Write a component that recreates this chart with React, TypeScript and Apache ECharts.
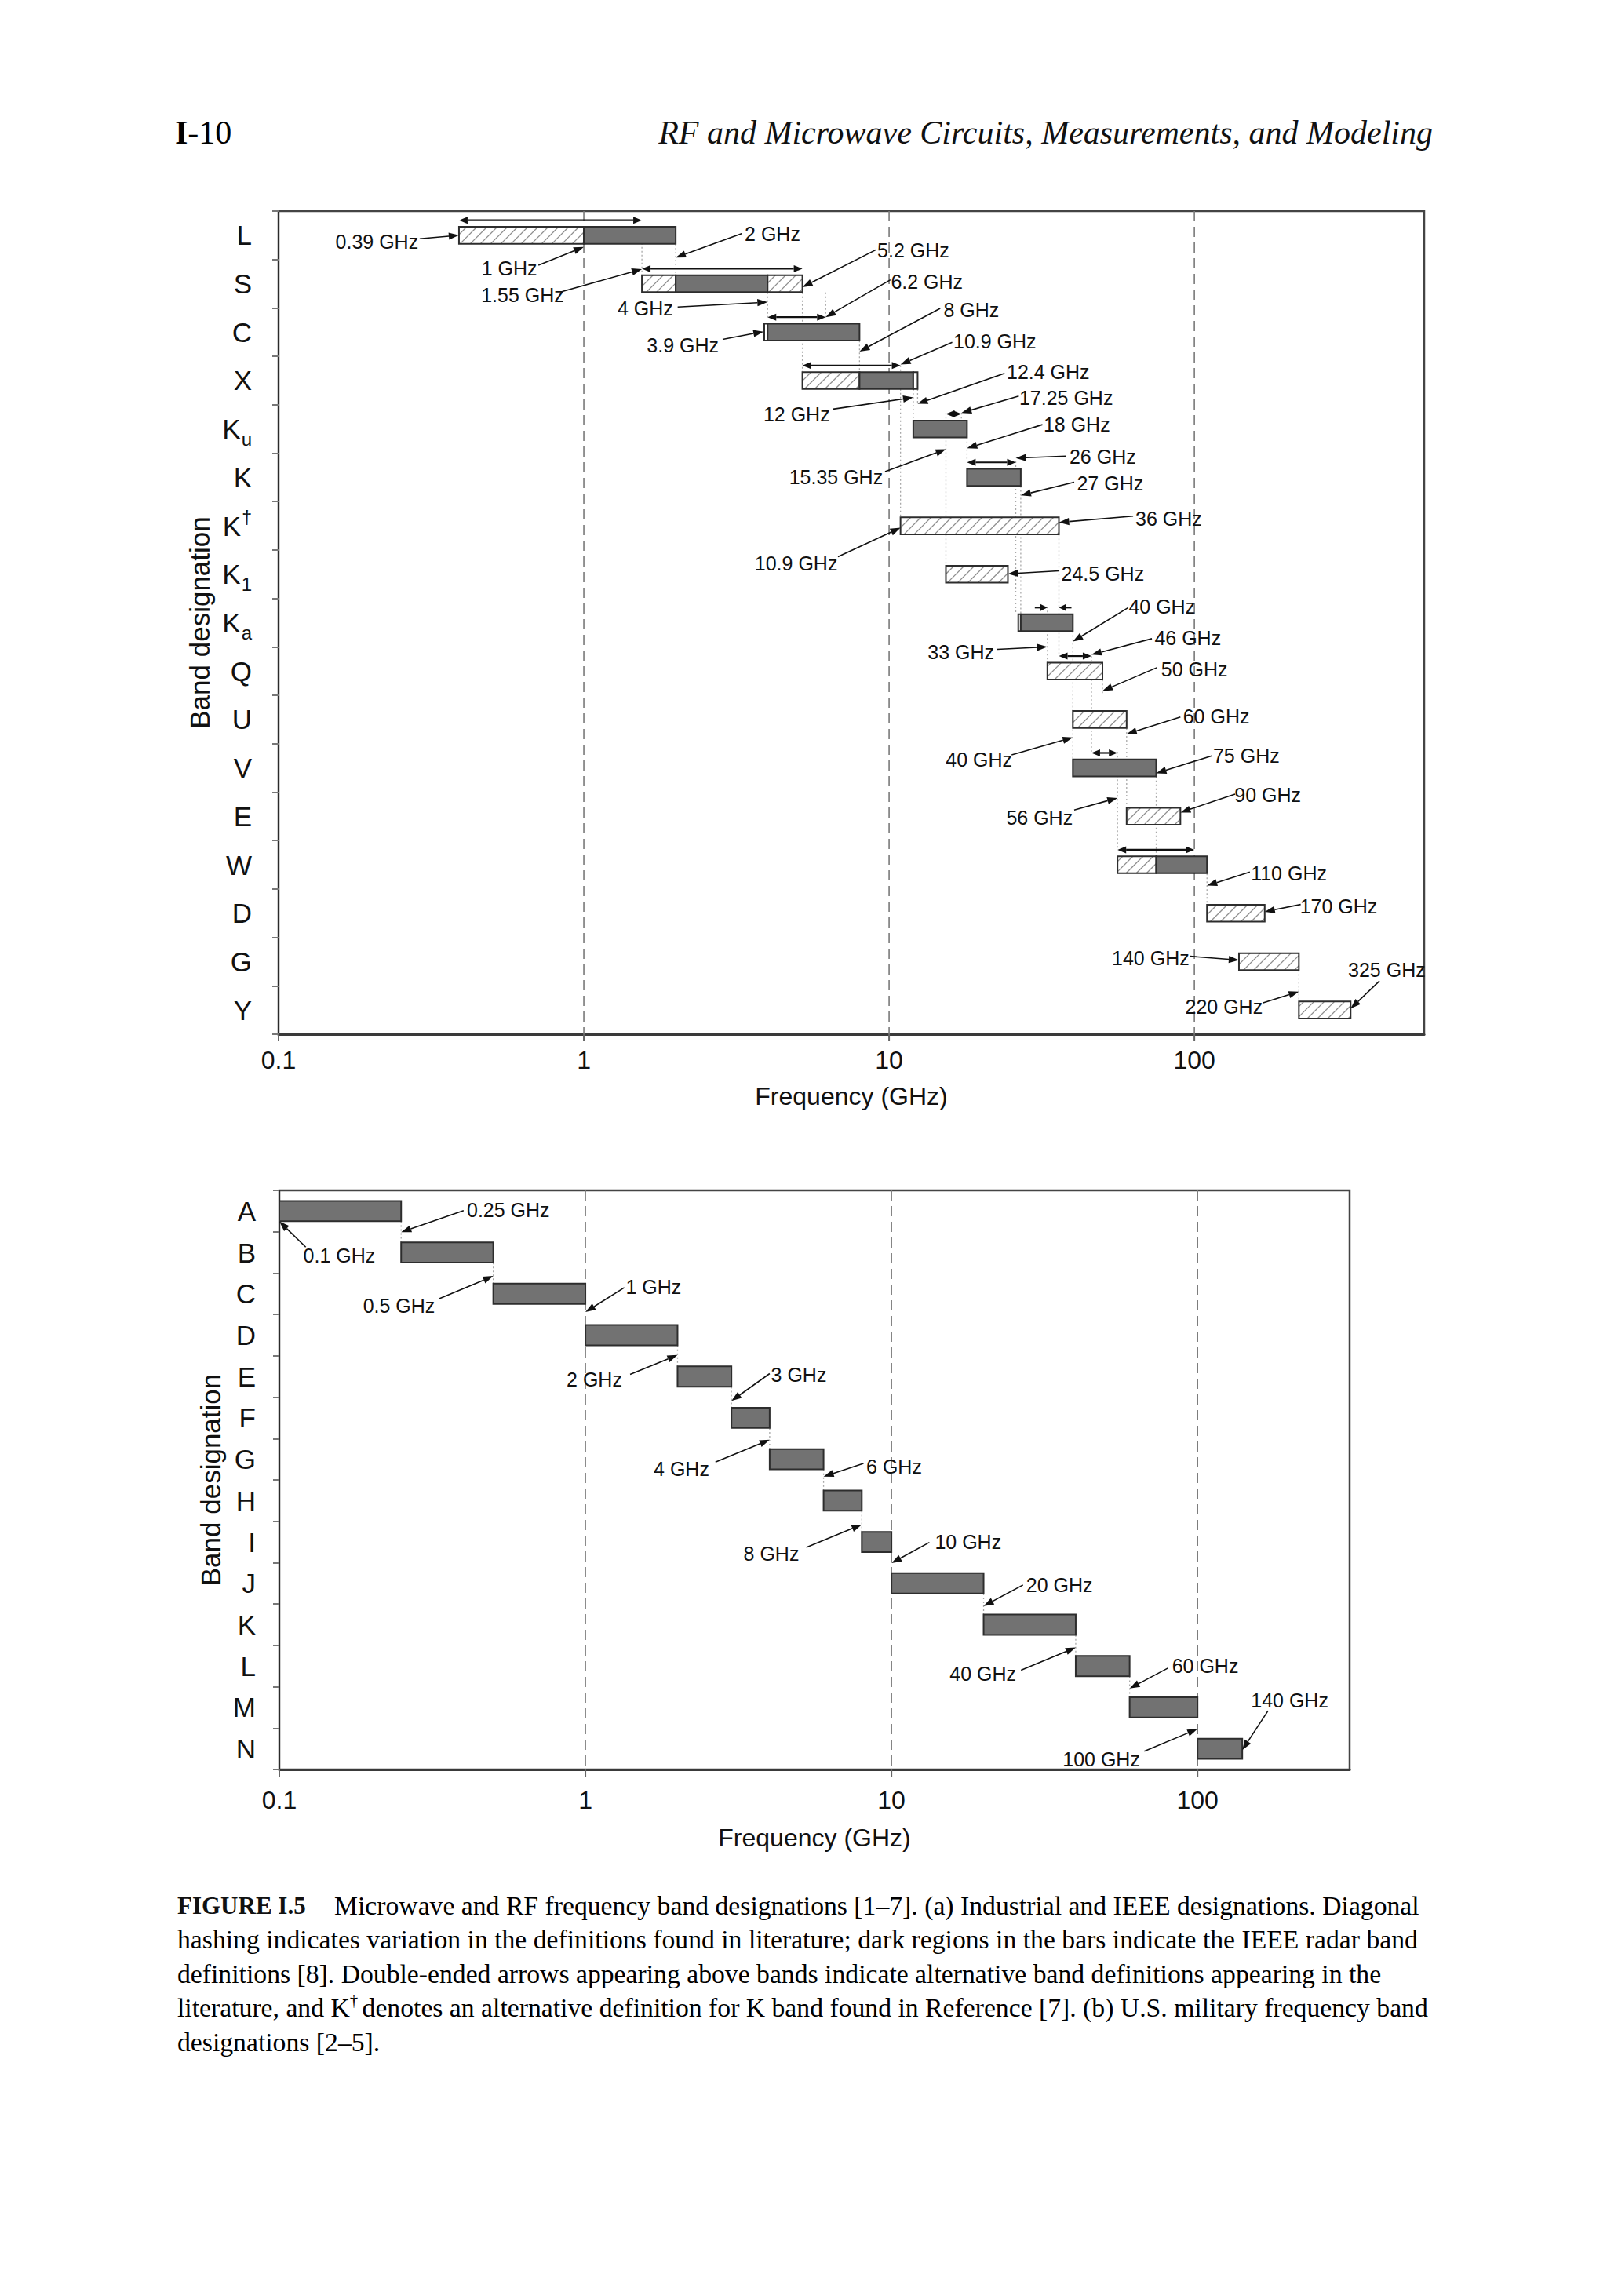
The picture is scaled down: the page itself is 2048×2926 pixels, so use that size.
import React, { useEffect, useRef } from "react";
import * as echarts from "echarts";

const SANS = "'Liberation Sans', Arial, Helvetica, sans-serif";
const SERIF = "'Liberation Serif', 'Times New Roman', serif";

// ---------- data ----------
const TOP_BANDS = ["L", "S", "C", "X", "Ku", "K", "K†", "K1", "Ka", "Q", "U", "V", "E", "W", "D", "G", "Y"];
const BOTTOM_BANDS = ["A", "B", "C", "D", "E", "F", "G", "H", "I", "J", "K", "L", "M", "N"];
const X_TICKS = [0.1, 1, 10, 100];
const TOP_X_RANGE = [0.1, 566];
const BOTTOM_X_RANGE = [0.1, 314];

// [start GHz, end GHz, row, kind]  kind: 0 hatched (variation), 1 dark (IEEE), 2 plain
const TOP_SEGMENTS = [
  [0.39, 1, 0, 0], [1, 2, 0, 1],
  [1.55, 2, 1, 0], [2, 4, 1, 1], [4, 5.2, 1, 0],
  [3.9, 4, 2, 2], [4, 8, 2, 1],
  [5.2, 8, 3, 0], [8, 12, 3, 1], [12, 12.4, 3, 2],
  [12, 18, 4, 1],
  [18, 27, 5, 1],
  [10.9, 36, 6, 0],
  [15.35, 24.5, 7, 0],
  [26.5, 27, 8, 2], [27, 40, 8, 1],
  [33, 50, 9, 0],
  [40, 60, 10, 0],
  [40, 75, 11, 1],
  [60, 90, 12, 0],
  [56, 75, 13, 0], [75, 110, 13, 1],
  [110, 170, 14, 0],
  [140, 220, 15, 0],
  [220, 325, 16, 0],
];

const BOTTOM_SEGMENTS = [
  [0.1, 0.25, 0, 1], [0.25, 0.5, 1, 1], [0.5, 1, 2, 1], [1, 2, 3, 1],
  [2, 3, 4, 1], [3, 4, 5, 1], [4, 6, 6, 1], [6, 8, 7, 1], [8, 10, 8, 1],
  [10, 20, 9, 1], [20, 40, 10, 1], [40, 60, 11, 1], [60, 100, 12, 1], [100, 140, 13, 1],
];

// alternative definitions [from GHz, to GHz, row, style] style 0 double-ended, 1 inward pair
const TOP_RANGES = [
  [0.39, 1.55, 0, 0], [1.55, 5.2, 1, 0], [4, 6.2, 2, 0], [5.2, 10.9, 3, 0],
  [15.35, 17.25, 4, 0], [18, 26, 5, 0], [33, 36, 8, 1], [36, 46, 9, 0],
  [46, 56, 11, 0], [56, 100, 13, 0],
];

// dotted guide lines [GHz, row from, row to]
const TOP_GUIDES = [
  [1.55, 0.0, 0.82], [2, 0.18, 0.82], [4, 1.18, 1.69], [5.2, 1.18, 2.82], [6.2, 1.18, 1.69],
  [8, 2.18, 2.82], [10.9, 2.69, 5.82], [12, 3.18, 3.82], [12.4, 3.18, 3.5], [15.35, 3.67, 6.82],
  [17.25, 3.67, 3.82], [18, 4.18, 4.67], [26, 4.67, 7.82], [27, 5.18, 7.82], [36, 6.18, 8.69],
  [33, 7.67, 8.82], [40, 8.18, 10.82], [46, 8.69, 10.67], [50, 9.18, 9.5], [60, 10.18, 11.82],
  [56, 10.67, 12.69], [75, 11.18, 12.82], [110, 13.18, 13.82], [220, 15.18, 15.82],
];
const BOTTOM_GUIDES = [
  [0.25, 0.25, 0.75], [0.5, 1.25, 1.75], [2, 3.25, 3.75], [3, 4.25, 4.75], [4, 5.25, 5.75],
  [6, 6.25, 6.75], [8, 7.25, 7.75], [20, 9.25, 9.75], [40, 10.25, 10.75], [60, 11.25, 11.75],
];

// callouts: label, and [head GHz, head row, tail GHz, tail row, text GHz, text row]
const TOP_NOTE_LABELS = [
  "0.39 GHz", "1 GHz", "1.55 GHz", "2 GHz", "4 GHz", "3.9 GHz", "5.2 GHz", "6.2 GHz", "8 GHz",
  "10.9 GHz", "12.4 GHz", "12 GHz", "17.25 GHz", "18 GHz", "15.35 GHz", "26 GHz", "27 GHz",
  "36 GHz", "10.9 GHz", "24.5 GHz", "40 GHz", "46 GHz", "33 GHz", "50 GHz", "60 GHz", "40 GHz",
  "75 GHz", "90 GHz", "56 GHz", "110 GHz", "170 GHz", "140 GHz", "220 GHz", "325 GHz",
];
const TOP_NOTES = [
  [0.39, 0.0, 0.29, 0.07, 0.21, 0.14],
  [1.0, 0.24, 0.71, 0.62, 0.57, 0.68],
  [1.55, 0.7, 0.85, 1.16, 0.63, 1.24],
  [2.0, 0.46, 3.3, -0.04, 4.15, -0.03],
  [4.0, 1.38, 2.03, 1.48, 1.59, 1.51],
  [3.88, 1.99, 2.85, 2.15, 2.11, 2.27],
  [5.2, 1.07, 9.05, 0.3, 12.0, 0.31],
  [6.2, 1.69, 10.1, 0.92, 13.3, 0.96],
  [8.0, 2.4, 14.7, 1.51, 18.6, 1.54],
  [10.9, 2.67, 16.1, 2.21, 22.2, 2.19],
  [12.4, 3.48, 23.9, 2.85, 33.2, 2.83],
  [12.0, 3.35, 6.55, 3.59, 4.98, 3.7],
  [17.25, 3.67, 26.6, 3.32, 38.0, 3.35],
  [18.0, 4.4, 31.8, 3.91, 41.2, 3.91],
  [15.35, 4.42, 9.7, 4.88, 6.7, 4.99],
  [26.0, 4.6, 38.0, 4.56, 50.1, 4.58],
  [27.0, 5.37, 40.4, 5.1, 53.0, 5.13],
  [36.0, 5.93, 63.0, 5.8, 82.4, 5.85],
  [10.9, 6.04, 6.8, 6.64, 4.96, 6.77],
  [24.5, 6.99, 36.0, 6.93, 50.1, 6.98],
  [40.0, 8.39, 60.7, 7.69, 78.3, 7.66],
  [46.0, 8.66, 72.6, 8.33, 95.2, 8.31],
  [33.0, 8.5, 22.6, 8.55, 17.2, 8.6],
  [50.0, 9.41, 75.3, 8.93, 100, 8.96],
  [60.0, 10.3, 90.0, 9.95, 118, 9.93],
  [40.0, 10.37, 25.2, 10.73, 19.7, 10.82],
  [75.0, 11.11, 114, 10.75, 148, 10.75],
  [90.0, 11.92, 136, 11.54, 174, 11.55],
  [56.0, 11.62, 40.4, 11.87, 31.1, 12.03],
  [110, 13.43, 152, 13.15, 204, 13.17],
  [170, 13.97, 223, 13.82, 297, 13.86],
  [140, 14.97, 96.8, 14.89, 71.9, 14.92],
  [220, 15.62, 168, 15.85, 125, 15.93],
  [325, 15.97, 404, 15.4, 427, 15.17],
];

const BOTTOM_NOTE_LABELS = [
  "0.1 GHz", "0.25 GHz", "0.5 GHz", "1 GHz", "2 GHz", "3 GHz", "4 GHz", "6 GHz",
  "8 GHz", "10 GHz", "20 GHz", "40 GHz", "60 GHz", "100 GHz", "140 GHz",
];
const BOTTOM_NOTES = [
  [0.1, 0.25, 0.122, 0.87, 0.157, 1.075],
  [0.25, 0.51, 0.4, -0.01, 0.56, -0.03],
  [0.5, 1.57, 0.333, 2.12, 0.246, 2.28],
  [1.0, 2.44, 1.34, 1.85, 1.67, 1.83],
  [2.0, 3.48, 1.4, 3.95, 1.07, 4.08],
  [3.0, 4.59, 4.0, 3.93, 4.98, 3.95],
  [4.0, 5.53, 2.66, 6.07, 2.06, 6.23],
  [6.0, 6.42, 8.1, 6.1, 10.2, 6.17],
  [8.0, 7.58, 5.27, 8.13, 4.05, 8.29],
  [10, 8.51, 13.3, 8.01, 17.8, 8.0],
  [20, 9.55, 26.9, 9.04, 35.4, 9.04],
  [40, 10.55, 26.5, 11.1, 19.9, 11.19],
  [60, 11.54, 80, 11.05, 106, 11.0],
  [100, 12.52, 67, 13.06, 48.5, 13.25],
  [140, 13.03, 170, 12.08, 200, 11.83],
];

const HEADER_LEFT = ["I", "-10"];
const HEADER_TITLE = "RF and Microwave Circuits, Measurements, and Modeling";
const CAPTION_LABEL = "FIGURE I.5";
const CAPTION_LINES = [
  "Microwave and RF frequency band designations [1–7]. (a) Industrial and IEEE designations. Diagonal",
  "hashing indicates variation in the definitions found in literature; dark regions in the bars indicate the IEEE radar band",
  "definitions [8]. Double-ended arrows appearing above bands indicate alternative band definitions appearing in the",
  "literature, and K|†| denotes an alternative definition for K band found in Reference [7]. (b) U.S. military frequency band",
  "designations [2–5].",
];

// ---------- styles ----------
const DARK = "#727272";
const EDGE = "#2d2d2d";
const HATCH = "#8e8e8e";
const INK = "#111111";
const NOTE_SIZE = 25;

// ---------- helpers ----------
const colX = (api: any, f: number) => api.coord([f, 0])[0];
const rowY = (api: any, r: number) => {
  const a = api.coord([1, 0])[1];
  const b = api.coord([1, 1])[1];
  return a + r * (b - a);
};

function arrowHead(hx: number, hy: number, fx: number, fy: number, len: number, wid: number) {
  const dx = hx - fx;
  const dy = hy - fy;
  const d = Math.hypot(dx, dy) || 1;
  const ux = dx / d;
  const uy = dy / d;
  const bx = hx - ux * len;
  const by = hy - uy * len;
  return {
    base: [bx, by],
    points: [
      [hx, hy],
      [bx - uy * wid, by + ux * wid],
      [bx + uy * wid, by - ux * wid],
    ],
  };
}

function gridLinesRender(nRows: number) {
  return (params: any, api: any) => {
    const v = api.value(0);
    const x = colX(api, v);
    const yTop = rowY(api, -0.5);
    const yBot = rowY(api, nRows - 0.5);
    const children: any[] = [];
    if (v > X_TICKS[0] * 1.0001) {
      children.push({
        type: "line",
        shape: { x1: x, y1: yTop, x2: x, y2: yBot },
        style: { stroke: "#7a7a7a", lineWidth: 1.6, lineDash: [13, 7] },
      });
    }
    children.push({
      type: "line",
      shape: { x1: x, y1: yBot, x2: x, y2: yBot + 9 },
      style: { stroke: "#666", lineWidth: 2 },
    });
    return { type: "group", children };
  };
}

function guidesRender(params: any, api: any) {
  const x = colX(api, api.value(0));
  const y0 = rowY(api, api.value(1));
  const y1 = rowY(api, api.value(2));
  return {
    type: "line",
    shape: { x1: x, y1: y0, x2: x, y2: y1 },
    style: { stroke: "#a8a8a8", lineWidth: 1.3, lineDash: [2, 3] },
  };
}

function barsRender(frac: number) {
  return (params: any, api: any) => {
    const s = api.value(0);
    const e = api.value(1);
    const r = api.value(2);
    const k = api.value(3);
    const x0 = colX(api, s);
    const x1 = colX(api, e);
    const yc = rowY(api, r);
    const h = (rowY(api, 1) - rowY(api, 0)) * frac;
    const y0 = yc - h / 2;
    const y1 = yc + h / 2;
    const children: any[] = [
      {
        type: "rect",
        shape: { x: x0, y: y0, width: x1 - x0, height: h },
        style: { fill: k === 1 ? DARK : "#ffffff" },
      },
    ];
    if (k === 0) {
      const step = 13;
      const cStart = Math.ceil((x0 + y0) / step) * step;
      for (let c = cStart; c < x1 + y1; c += step) {
        const xa = Math.max(x0, c - y1);
        const xb = Math.min(x1, c - y0);
        if (xb > xa + 0.5) {
          children.push({
            type: "line",
            shape: { x1: xa, y1: c - xa, x2: xb, y2: c - xb },
            style: { stroke: HATCH, lineWidth: 1.3 },
          });
        }
      }
    }
    children.push({
      type: "rect",
      shape: { x: x0, y: y0, width: x1 - x0, height: h },
      style: { fill: "none", stroke: EDGE, lineWidth: 2 },
    });
    return { type: "group", children };
  };
}

function rangesRender(params: any, api: any) {
  const xa = colX(api, api.value(0));
  const xb = colX(api, api.value(1));
  const y = rowY(api, api.value(2) - 0.31);
  const style = api.value(3);
  const children: any[] = [];
  if (style === 0) {
    const h1 = arrowHead(xa, y, xb, y, 11, 4.5);
    const h2 = arrowHead(xb, y, xa, y, 11, 4.5);
    children.push({
      type: "line",
      shape: { x1: h1.base[0], y1: y, x2: h2.base[0], y2: y },
      style: { stroke: INK, lineWidth: 2.2 },
    });
    children.push({ type: "polygon", shape: { points: h1.points }, style: { fill: INK } });
    children.push({ type: "polygon", shape: { points: h2.points }, style: { fill: INK } });
  } else {
    const h1 = arrowHead(xa, y, xa - 16, y, 9, 4.5);
    const h2 = arrowHead(xb, y, xb + 16, y, 9, 4.5);
    children.push({ type: "line", shape: { x1: xa - 16, y1: y, x2: h1.base[0], y2: y }, style: { stroke: INK, lineWidth: 2 } });
    children.push({ type: "line", shape: { x1: xb + 16, y1: y, x2: h2.base[0], y2: y }, style: { stroke: INK, lineWidth: 2 } });
    children.push({ type: "polygon", shape: { points: h1.points }, style: { fill: INK } });
    children.push({ type: "polygon", shape: { points: h2.points }, style: { fill: INK } });
  }
  return { type: "group", children };
}

function notesRender(labels: string[]) {
  return (params: any, api: any) => {
    const hx = colX(api, api.value(0));
    const hy = rowY(api, api.value(1));
    const tx = colX(api, api.value(2));
    const ty = rowY(api, api.value(3));
    const lx = colX(api, api.value(4));
    const ly = rowY(api, api.value(5));
    const head = arrowHead(hx, hy, tx, ty, 13, 4.6);
    return {
      type: "group",
      children: [
        {
          type: "line",
          shape: { x1: tx, y1: ty, x2: head.base[0], y2: head.base[1] },
          style: { stroke: INK, lineWidth: 1.6 },
        },
        { type: "polygon", shape: { points: head.points }, style: { fill: INK } },
        {
          type: "text",
          style: {
            text: labels[params.dataIndex],
            x: lx,
            y: ly,
            align: "center",
            verticalAlign: "middle",
            fontSize: NOTE_SIZE,
            fontFamily: SANS,
            fill: INK,
          },
        },
      ],
    };
  };
}

const bandLabel = (v: string) => {
  if (v.length === 2 && v[0] === "K") {
    if (v[1] === "†") return "{m|K}{p|†}";
    return "{m|K}{s|" + v[1] + "}";
  }
  return "{m|" + v + "}";
};

const BAND_RICH = {
  m: { fontSize: 35, fontFamily: SANS, color: INK, lineHeight: 50 },
  s: { fontSize: 24, fontFamily: SANS, color: INK, lineHeight: 50, verticalAlign: "bottom", padding: [0, 0, 0, 1] },
  p: { fontSize: 23, fontFamily: SANS, color: INK, lineHeight: 50, verticalAlign: "top", padding: [3, 0, 0, 1] },
};

const tickFmt = (v: number) => {
  const l = Math.log10(v);
  if (Math.abs(l - Math.round(l)) < 1e-6) return String(Number(v.toPrecision(6)));
  return "";
};

function xAxisDef(gridIndex: number, range: number[], nameGap: number, margin: number) {
  return {
    type: "log",
    logBase: 10,
    gridIndex,
    min: range[0],
    max: range[1],
    axisLine: { show: true, onZero: false, lineStyle: { color: "#3a3a3a", width: 3 } },
    axisTick: { show: false },
    splitLine: { show: false },
    axisLabel: {
      formatter: tickFmt,
      margin,
      fontSize: 32,
      fontFamily: SANS,
      color: INK,
      showMaxLabel: false,
    },
    name: "Frequency (GHz)",
    nameLocation: "middle",
    nameGap,
    nameTextStyle: { fontSize: 32, fontFamily: SANS, color: INK },
  };
}

function yAxisDef(gridIndex: number, bands: string[], nameGap: number, margin: number) {
  return {
    type: "category",
    gridIndex,
    data: bands,
    inverse: true,
    axisLine: { show: true, lineStyle: { color: "#2a2a2a", width: 2 } },
    axisTick: { show: true, length: 8, lineStyle: { color: "#777", width: 2 } },
    splitLine: { show: false },
    axisLabel: { margin, formatter: bandLabel, rich: BAND_RICH, color: INK },
    name: "Band designation",
    nameLocation: "middle",
    nameRotate: 90,
    nameGap,
    nameTextStyle: { fontSize: 35, fontFamily: SANS, color: INK },
  };
}

function buildOption() {
  const capX = 226;
  const capY0 = 2428;
  const capDy = 43.6;
  const capSize = 33.7;
  const captionEls: any[] = [
    {
      type: "text",
      x: capX,
      y: capY0,
      style: { text: CAPTION_LABEL, fontSize: 31, fontWeight: "bold", fontFamily: SERIF, fill: INK, verticalAlign: "middle" },
    },
  ];
  CAPTION_LINES.forEach((line, i) => {
    const parts = line.split("|");
    let text: string;
    if (parts.length === 3) {
      text = "{n|" + parts[0] + "}{p|" + parts[1] + " }{n|" + parts[2].replace(/^ /, "") + "}";
    } else {
      text = "{n|" + line + "}";
    }
    captionEls.push({
      type: "text",
      x: i === 0 ? 426 : capX,
      y: capY0 + i * capDy,
      style: {
        text,
        verticalAlign: "middle",
        rich: {
          n: { fontSize: capSize, fontFamily: SERIF, color: INK, lineHeight: 40 },
          p: { fontSize: 21, fontFamily: SERIF, color: INK, lineHeight: 40, verticalAlign: "top" },
        },
      },
    });
  });

  return {
    animation: false,
    backgroundColor: "#ffffff",
    grid: [
      { left: 355, top: 269, width: 1460, height: 1049, show: true, borderColor: "#444", borderWidth: 2.5 },
      { left: 356, top: 1517, width: 1364, height: 738, show: true, borderColor: "#444", borderWidth: 2.5 },
    ],
    xAxis: [xAxisDef(0, TOP_X_RANGE, 63, 17), xAxisDef(1, BOTTOM_X_RANGE, 71, 23)],
    yAxis: [yAxisDef(0, TOP_BANDS, 80, 34), yAxisDef(1, BOTTOM_BANDS, 66, 30)],
    series: [
      {
        type: "custom", name: "top-grid", xAxisIndex: 0, yAxisIndex: 0, z: 1, silent: true,
        renderItem: gridLinesRender(TOP_BANDS.length), data: X_TICKS.map((v) => [v, 0]), encode: { x: 0, y: 1 },
      },
      {
        type: "custom", name: "top-guides", xAxisIndex: 0, yAxisIndex: 0, z: 2, silent: true,
        renderItem: guidesRender, data: TOP_GUIDES, encode: { x: 0, y: [1, 2] },
      },
      {
        type: "custom", name: "top-bars", xAxisIndex: 0, yAxisIndex: 0, z: 3, silent: true,
        renderItem: barsRender(0.35), data: TOP_SEGMENTS, encode: { x: [0, 1], y: 2 },
      },
      {
        type: "custom", name: "top-ranges", xAxisIndex: 0, yAxisIndex: 0, z: 4, silent: true,
        renderItem: rangesRender, data: TOP_RANGES, encode: { x: [0, 1], y: 2 },
      },
      {
        type: "custom", name: "top-notes", xAxisIndex: 0, yAxisIndex: 0, z: 5, silent: true,
        renderItem: notesRender(TOP_NOTE_LABELS), data: TOP_NOTES, encode: { x: [0, 2, 4], y: [1, 3, 5] },
      },
      {
        type: "custom", name: "bottom-grid", xAxisIndex: 1, yAxisIndex: 1, z: 1, silent: true,
        renderItem: gridLinesRender(BOTTOM_BANDS.length), data: X_TICKS.map((v) => [v, 0]), encode: { x: 0, y: 1 },
      },
      {
        type: "custom", name: "bottom-guides", xAxisIndex: 1, yAxisIndex: 1, z: 2, silent: true,
        renderItem: guidesRender, data: BOTTOM_GUIDES, encode: { x: 0, y: [1, 2] },
      },
      {
        type: "custom", name: "bottom-bars", xAxisIndex: 1, yAxisIndex: 1, z: 3, silent: true,
        renderItem: barsRender(0.49), data: BOTTOM_SEGMENTS, encode: { x: [0, 1], y: 2 },
      },
      {
        type: "custom", name: "bottom-notes", xAxisIndex: 1, yAxisIndex: 1, z: 5, silent: true,
        renderItem: notesRender(BOTTOM_NOTE_LABELS), data: BOTTOM_NOTES, encode: { x: [0, 2, 4], y: [1, 3, 5] },
      },
    ],
    graphic: {
      elements: [
        {
          type: "text",
          x: 223,
          y: 169,
          style: {
            text: "{b|" + HEADER_LEFT[0] + "}{r|" + HEADER_LEFT[1] + "}",
            verticalAlign: "middle",
            rich: {
              b: { fontSize: 42, fontWeight: "bold", fontFamily: SERIF, color: INK },
              r: { fontSize: 42, fontFamily: SERIF, color: INK },
            },
          },
        },
        {
          type: "text",
          x: 1826,
          y: 169,
          style: {
            text: HEADER_TITLE,
            align: "right",
            verticalAlign: "middle",
            fontSize: 42,
            fontStyle: "italic",
            fontFamily: SERIF,
            fill: INK,
          },
        },
        ...captionEls,
      ],
    },
  };
}

export default function App() {
  const ref = useRef<HTMLDivElement>(null);
  useEffect(() => {
    if (!ref.current) return;
    const chart = echarts.init(ref.current, null, { renderer: "svg" });
    chart.setOption(buildOption() as any);
    return () => chart.dispose();
  }, []);
  return (
    <div
      ref={ref}
      style={{ position: "absolute", left: 0, top: 0, width: 2048, height: 2926, background: "#fff" }}
    />
  );
}
